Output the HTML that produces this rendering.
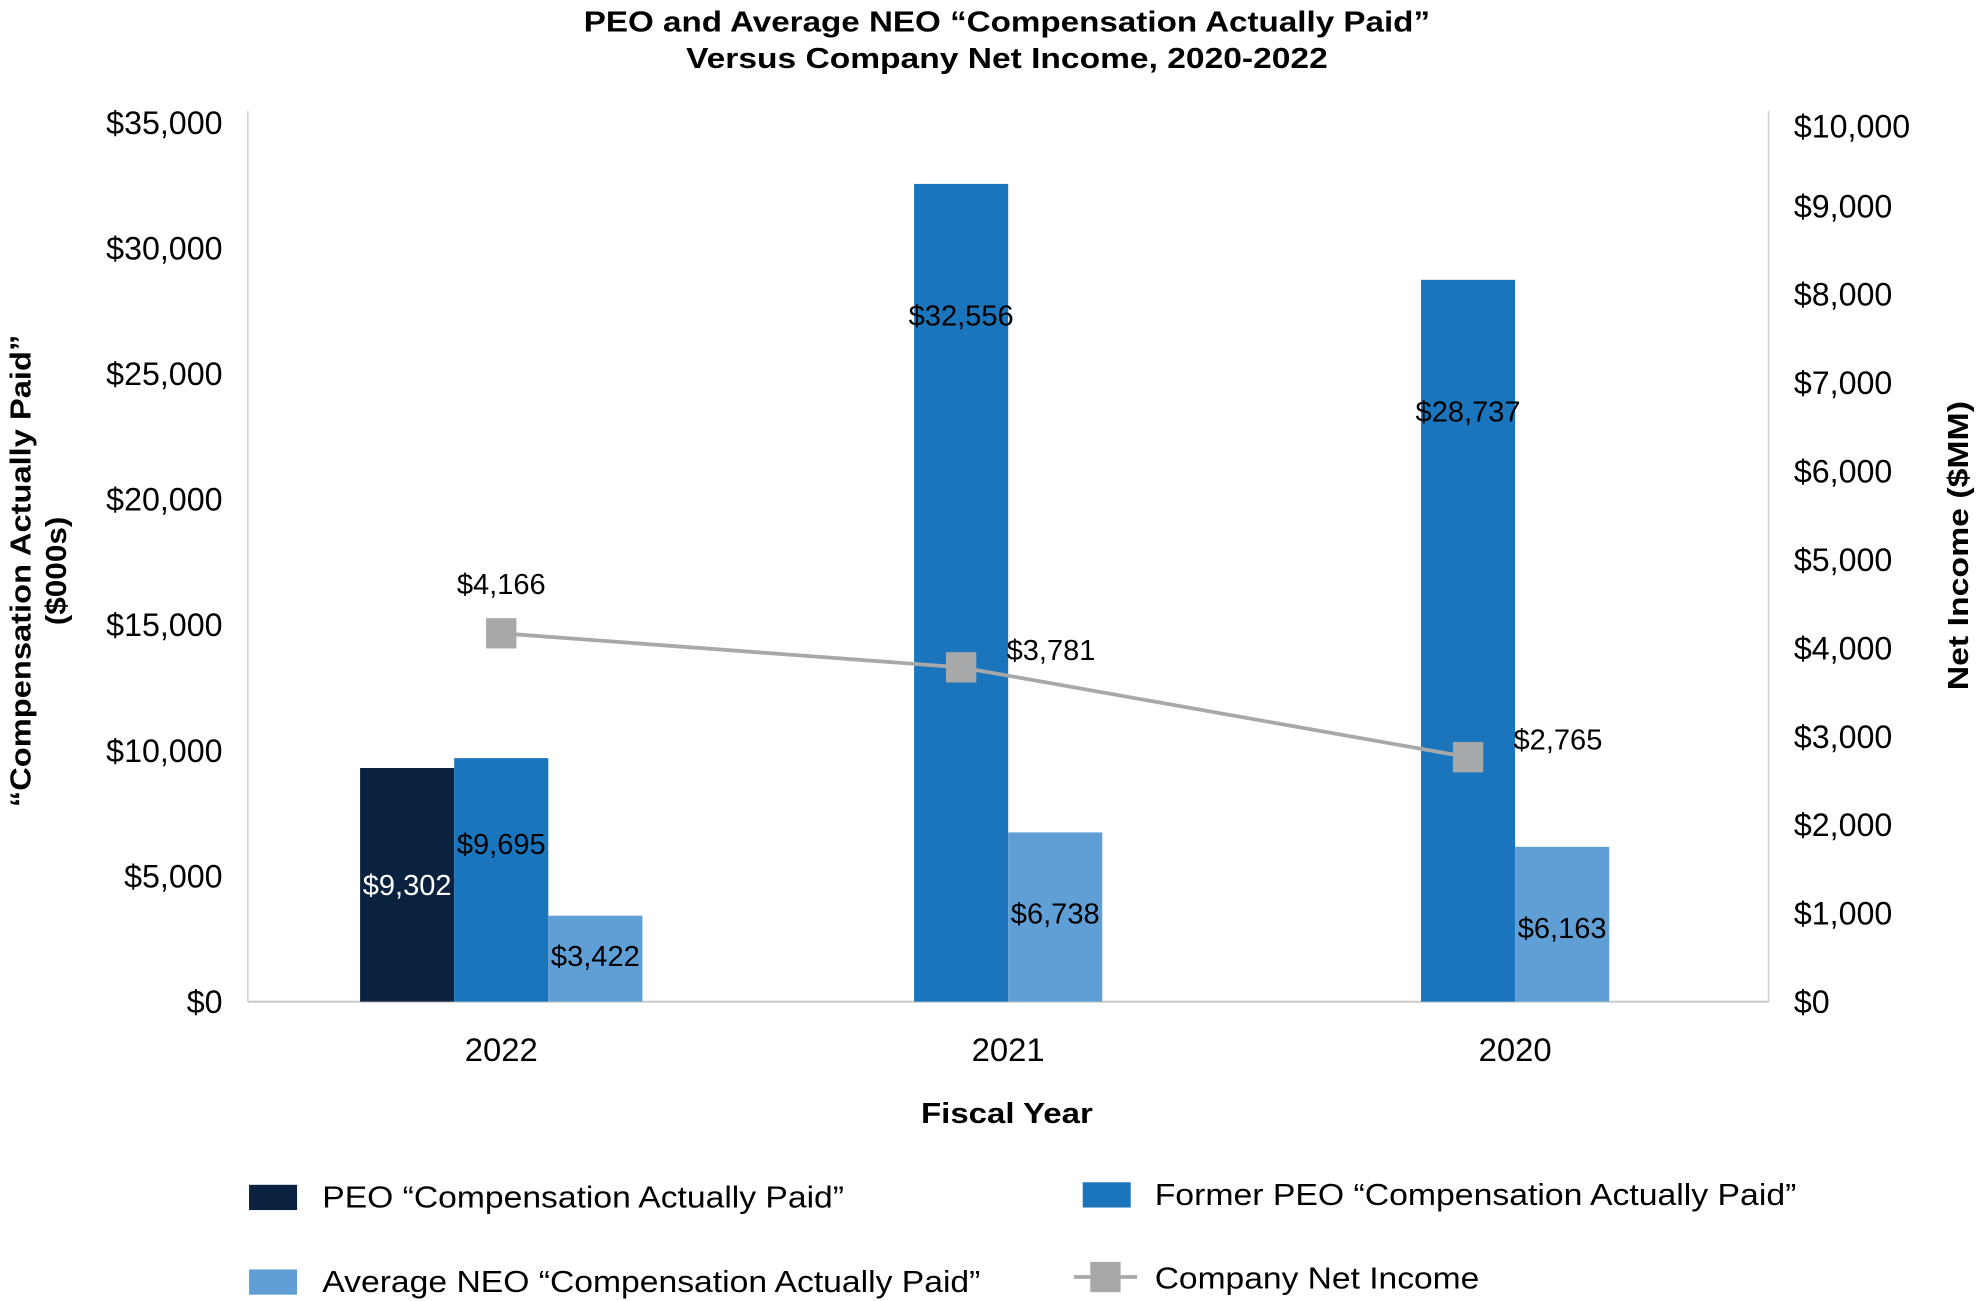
<!DOCTYPE html>
<html><head><meta charset="utf-8"><style>
html,body{margin:0;padding:0;background:#fff;}
svg{display:block;font-family:"Liberation Sans",Arial,sans-serif;}
</style></head><body>
<svg id="chart" width="1981" height="1301" viewBox="0 0 1568 1030" xmlns="http://www.w3.org/2000/svg">
<g font-weight="bold" font-size="23" text-anchor="middle" fill="#000">
<text x="797" y="25" textLength="670" lengthAdjust="spacingAndGlyphs">PEO and Average NEO “Compensation Actually Paid”</text>
<text x="797" y="54" textLength="508" lengthAdjust="spacingAndGlyphs">Versus Company Net Income, 2020-2022</text>
</g>
<g id="axes"></g>
<g id="bars"></g>
<g id="line"></g>
<g id="labels"></g>
<g font-weight="bold" font-size="23" text-anchor="middle" transform="translate(24,452) rotate(-90)">
<text x="0" y="0" textLength="374" lengthAdjust="spacingAndGlyphs">“Compensation Actually Paid”</text>
<text x="0" y="28" textLength="86" lengthAdjust="spacingAndGlyphs">($000s)</text>
</g>
<text font-weight="bold" font-size="23" text-anchor="middle" transform="translate(1558,432) rotate(-90)" textLength="229" lengthAdjust="spacingAndGlyphs">Net Income ($MM)</text>
<text font-weight="bold" font-size="23" text-anchor="middle" x="797" y="889" textLength="136" lengthAdjust="spacingAndGlyphs">Fiscal Year</text>
<g font-size="24">
<g><rect x="197" y="938" width="38" height="20" fill="#0a2240"/><text x="255" y="956" textLength="413" lengthAdjust="spacingAndGlyphs">PEO “Compensation Actually Paid”</text></g>
<g><rect x="857" y="936" width="38" height="20" fill="#1b75bc"/><text x="914" y="954" textLength="508" lengthAdjust="spacingAndGlyphs">Former PEO “Compensation Actually Paid”</text></g>
<g><rect x="197" y="1005" width="38" height="20" fill="#5f9fd5"/><text x="255" y="1023" textLength="521" lengthAdjust="spacingAndGlyphs">Average NEO “Compensation Actually Paid”</text></g>
<g><line x1="850" y1="1011" x2="900" y2="1011" stroke="#a7a8aa" stroke-width="3"/><rect x="863" y="999" width="24" height="24" fill="#a7a8aa"/><text x="914" y="1020" textLength="257" lengthAdjust="spacingAndGlyphs">Company Net Income</text></g>
</g>
</svg>
<script>
const categories = ["2022","2021","2020"];
const peoValues = [9302, null, null];
const formerPeoValues = [9695, 32556, 28737];
const neoValues = [3422, 6738, 6163];
const netIncomeValues = [4166, 3781, 2765];
const leftTicks = [0,5000,10000,15000,20000,25000,30000,35000];
const rightTicks = [0,1000,2000,3000,4000,5000,6000,7000,8000,9000,10000];

const NS="http://www.w3.org/2000/svg";
const X0=196, X1=1400, Y0=793;
const yL=v=>Y0 - v*(696/35000);
const yR=v=>Y0 - v*(700/10000);
const band=(X1-X0)/categories.length;
const xC=i=>X0+band*(i+0.5);
const BW=74.5;
const fmt=v=>"$"+v.toLocaleString("en-US");
function mk(tag,attrs,parent,text){const e=document.createElementNS(NS,tag);for(const k in attrs)e.setAttribute(k,attrs[k]);if(text!=null)e.textContent=text;document.getElementById(parent).appendChild(e);return e;}

let e=mk("line",{x1:X0,y1:88,x2:X0,y2:Y0,stroke:"#d0d0d0","stroke-width":1.2},"axes");


e=mk("line",{x1:X1,y1:88,x2:X1,y2:Y0,stroke:"#d0d0d0","stroke-width":1.2},"axes");


e=mk("line",{x1:X0,y1:Y0,x2:X1,y2:Y0,stroke:"#c8c8c8","stroke-width":1.5},"axes");


leftTicks.forEach(v=>{const t=mk("text",{x:176,y:yL(v)+9,"text-anchor":"end","font-size":25.5},"axes",fmt(v));

});
rightTicks.forEach(v=>{const t=mk("text",{x:1420,y:Math.max(yR(v),100)+9,"font-size":25.5},"axes",fmt(v));

});
categories.forEach((c,i)=>{const t=mk("text",{x:xC(i),y:840,"text-anchor":"middle","font-size":26},"axes",c);

});

const series=[
 {vals:peoValues,color:"#0a2240",name:"peo",lc:"#fff"},
 {vals:formerPeoValues,color:"#1b75bc",name:"former-peo",lc:"#000"},
 {vals:neoValues,color:"#5f9fd5",name:"neo",lc:"#000"}];
const pointX=[];
categories.forEach((c,i)=>{
  const present=series.filter(s=>s.vals[i]!=null);
  let x=xC(i)-present.length*BW/2;
  present.forEach(s=>{
    const v=s.vals[i], top=yL(v);
    const r=mk("rect",{x:x,y:top,width:BW,height:Y0-top,fill:s.color},"bars");
    
    
    if(s.name==="former-peo") pointX[i]=x+BW/2;
    let ly;
    if(s.name==="peo") ly=top+(Y0-top)*0.5+8;
    else if(s.name==="former-peo") ly=(v>20000? top+112 : top+76);
    else ly=(v>5000? top+72 : top+40);
    const t=mk("text",{x:x+BW/2,y:ly,"text-anchor":"middle","font-size":23,fill:s.lc},"labels",fmt(v));
    
    
    x+=BW;
  });
});

const pts=netIncomeValues.map((v,i)=>[pointX[i],yR(v)]);
const pl=mk("polyline",{points:pts.map(p=>p.join(",")).join(" "),fill:"none",stroke:"#a7a8aa","stroke-width":3},"line");


pts.forEach((p,i)=>{
  const r=mk("rect",{x:p[0]-12,y:p[1]-12,width:24,height:24,fill:"#a7a8aa"},"line");
  
  
  const above=i===0;
  const t=mk("text",{x:above?p[0]:p[0]+36,y:above?p[1]-31:p[1]-6,"text-anchor":above?"middle":"start","font-size":23},"labels",fmt(netIncomeValues[i]));
  
  
});
</script>
</body></html>
